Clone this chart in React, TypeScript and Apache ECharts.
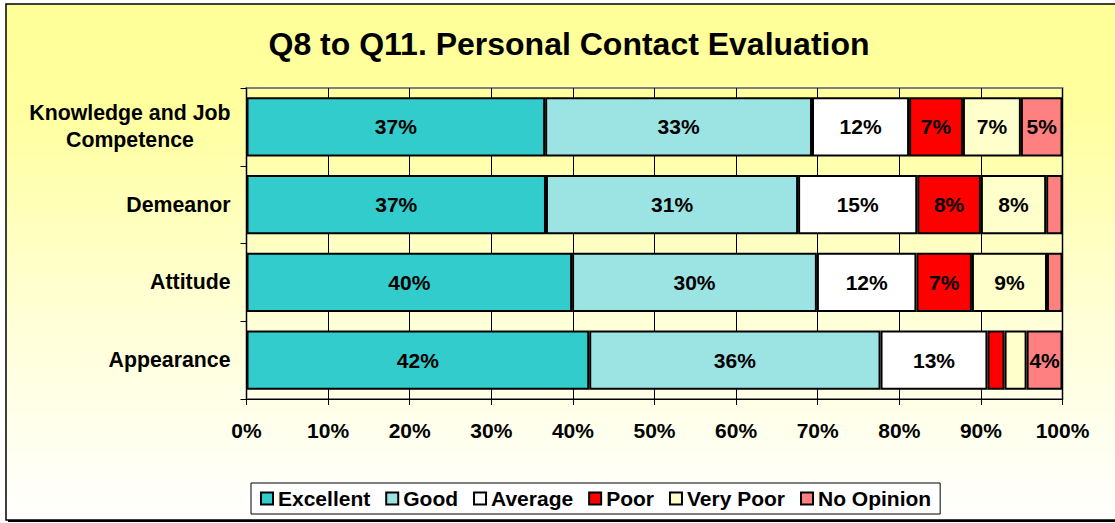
import React, { useEffect, useRef } from "react";
import * as echarts from "echarts";

const titleText = "Q8 to Q11. Personal Contact Evaluation";
const categories = ["Knowledge and Job\nCompetence", "Demeanor", "Attitude", "Appearance"];
const seriesNames = ["Excellent", "Good", "Average", "Poor", "Very Poor", "No Opinion"];
const excellent = [36.6, 36.7, 39.9, 42.0];
const good = [32.7, 30.9, 30.0, 35.7];
const average = [11.9, 14.6, 12.2, 13.1];
const poor = [6.6, 7.8, 6.8, 2.1];
const veryPoor = [7.1, 8.0, 9.2, 2.7];
const noOpinion = [5.1, 2.0, 1.9, 4.4];
const seriesColors = ["#33CCCC", "#9CE4E4", "#FFFFFF", "#FF0000", "#FFFFCC", "#FF8080"];
const xTicks = [0, 10, 20, 30, 40, 50, 60, 70, 80, 90, 100];

const FONT = "'Liberation Sans', Arial, sans-serif";

export default function App() {
  const ref = useRef<HTMLDivElement>(null);
  useEffect(() => {
    if (!ref.current) return;
    const chart = echarts.init(ref.current, undefined, { renderer: "svg" });
    const values = [excellent, good, average, poor, veryPoor, noOpinion];
    const series = seriesNames.map((name, i) => ({
      name,
      type: "bar" as const,
      stack: "total",
      barCategoryGap: "24%",
      data: values[i],
      itemStyle: { color: seriesColors[i], borderColor: "#000", borderWidth: 2 },
      label: {
        show: true,
        position: "inside",
        color: "#000",
        fontFamily: FONT,
        fontWeight: "bold",
        fontSize: 21,
        formatter: (p: any) => (p.value >= 3 ? Math.round(p.value) + "%" : ""),
      },
      emphasis: { disabled: true },
    }));
    chart.setOption({
      animation: false,
      backgroundColor: "#FFFFFF",
      graphic: [
        {
          type: "rect",
          z: -20,
          shape: { x: 8, y: 6, width: 1115, height: 516 },
          style: { fill: "#000" },
          silent: true,
        },
        {
          type: "rect",
          z: -19,
          shape: { x: 6, y: 4, width: 1115, height: 516 },
          style: {
            fill: new echarts.graphic.LinearGradient(0, 0, 0, 1, [
              { offset: 0, color: "#FFFF99" },
              { offset: 0.2, color: "#FFFF9E" },
              { offset: 0.6, color: "#FFFFD6" },
              { offset: 1, color: "#FFFFFF" },
            ]),
            stroke: "#000",
            lineWidth: 1.5,
          },
          silent: true,
        },
      ],
      title: {
        text: titleText,
        left: 564,
        textAlign: "center",
        top: 23,
        textStyle: { fontFamily: FONT, fontWeight: "bold", fontSize: 32, color: "#000" },
      },
      legend: {
        data: seriesNames,
        left: 251,
        top: 483,
        padding: [5, 9, 5, 9],
        backgroundColor: "#FFFFFF",
        borderColor: "#000",
        borderWidth: 1,
        itemWidth: 12,
        itemHeight: 12,
        itemGap: 15,
        icon: "rect",
        textStyle: { fontFamily: FONT, fontWeight: "bold", fontSize: 21, color: "#000" },
        selectedMode: false,
      },
      grid: {
        left: 246.5,
        width: 816,
        top: 88,
        height: 311,
        show: true,
        borderColor: "#808080",
        borderWidth: 2,
        backgroundColor: "transparent",
      },
      xAxis: {
        type: "value",
        min: xTicks[0],
        max: xTicks[xTicks.length - 1],
        interval: 10,
        axisLine: { show: true, lineStyle: { color: "#000", width: 1 } },
        axisTick: { show: true, length: 6, lineStyle: { color: "#000" } },
        splitLine: { show: true, lineStyle: { color: "#000", width: 1 } },
        axisLabel: {
          margin: 21,
          color: "#000",
          fontFamily: FONT,
          fontWeight: "bold",
          fontSize: 21,
          formatter: "{value}%",
        },
      },
      yAxis: {
        type: "category",
        data: categories,
        inverse: true,
        axisLine: { show: true, lineStyle: { color: "#000", width: 1 } },
        axisTick: { show: true, length: 6, lineStyle: { color: "#000" } },
        axisLabel: {
          margin: 16,
          color: "#000",
          fontFamily: FONT,
          fontWeight: "bold",
          fontSize: 21.3,
          lineHeight: 27,
          formatter: (v: string) =>
            v
              .split("\n")
              .map((l) => `{c|${l}}`)
              .join("\n"),
          rich: {
            c: {
              align: "center",
              color: "#000",
              fontFamily: FONT,
              fontWeight: "bold",
              fontSize: 21.3,
              lineHeight: 27,
            },
          },
        },
      },
      series,
    });
    return () => chart.dispose();
  }, []);
  return (
    <div
      ref={ref}
      style={{ position: "fixed", left: 0, top: 0, width: 1115, height: 523 }}
    />
  );
}
